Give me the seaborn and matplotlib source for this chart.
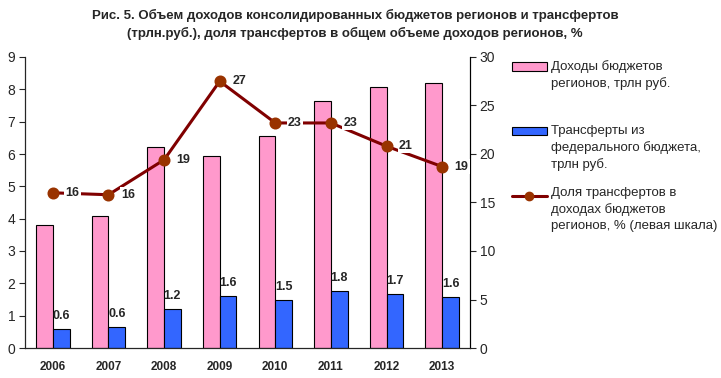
import pandas as pd
import matplotlib.pyplot as plt
import seaborn as sns
from matplotlib.patches import Patch
from matplotlib.lines import Line2D
from matplotlib.legend_handler import HandlerPatch, HandlerLine2D

# data
years = ["2006", "2007", "2008", "2009", "2010", "2011", "2012", "2013"]
income = [3.8, 4.08, 6.22, 5.94, 6.56, 7.64, 8.08, 8.2]
transfers = [0.6, 0.65, 1.2, 1.6, 1.5, 1.75, 1.67, 1.58]
transfer_labels = ["0.6", "0.6", "1.2", "1.6", "1.5", "1.8", "1.7", "1.6"]
share = [16.0, 15.8, 19.4, 27.5, 23.2, 23.2, 20.8, 18.7]
share_labels = ["16", "16", "19", "27", "23", "23", "21", "19"]

s_income = "Доходы бюджетов\nрегионов, трлн руб."
s_transf = "Трансферты из\nфедерального бюджета,\nтрлн руб."
s_share = "Доля трансфертов в\nдоходах бюджетов\nрегионов, % (левая шкала)"

PINK = "#FF99CC"
BLUE = "#3366FF"
LINE = "#800000"
MARK = "#993300"


# legend handles sit next to the first line of the label, not its middle
class UpPatch(HandlerPatch):
    def __init__(self, shift, **kw):
        super().__init__(**kw)
        self.shift = shift

    def create_artists(self, legend, orig_handle, xdescent, ydescent,
                       width, height, fontsize, trans):
        return super().create_artists(legend, orig_handle, xdescent,
                                      ydescent - self.shift * fontsize,
                                      width, height, fontsize, trans)


class UpLine(HandlerLine2D):
    def __init__(self, shift, **kw):
        super().__init__(**kw)
        self.shift = shift

    def create_artists(self, legend, orig_handle, xdescent, ydescent,
                       width, height, fontsize, trans):
        return super().create_artists(legend, orig_handle, xdescent,
                                      ydescent - self.shift * fontsize,
                                      width, height, fontsize, trans)


df = pd.DataFrame({"Год": years, s_income: income, s_transf: transfers})
df_long = df.melt(id_vars="Год", var_name="Серия", value_name="Значение")

sns.set_style("ticks")
plt.rcParams["font.family"] = ["Liberation Sans", "DejaVu Sans"]

fig = plt.figure(figsize=(7.21, 3.78), dpi=100)
ax = fig.add_axes([25 / 721, 30 / 378, 445 / 721, 291 / 378])

sns.barplot(data=df_long, x="Год", y="Значение", hue="Серия",
            palette=[PINK, BLUE], saturation=1, width=0.6,
            edgecolor="black", linewidth=0.8, ax=ax, legend=False)
ax.bar_label(ax.containers[1], labels=transfer_labels, padding=5,
             fontsize=9, fontweight="bold")

ax.set_ylim(0, 9)
ax.set_yticks(range(0, 10))
ax.set_xlim(-0.5, len(years) - 0.5)
ax.set_xlabel("")
ax.set_ylabel("")
ax.tick_params(axis="y", labelsize=10, length=4, width=0.8, pad=3)
ax.tick_params(axis="x", length=0, labelsize=8.5, pad=9)
for t in ax.get_xticklabels():
    t.set_fontweight("bold")
ax.spines["top"].set_visible(False)
for sp in ["left", "bottom", "right"]:
    ax.spines[sp].set_linewidth(0.8)
    ax.spines[sp].set_color("black")

ax2 = ax.twinx()
sns.pointplot(x=years, y=share, color=LINE, markers="o", linestyles="-",
              ax=ax2, markersize=7, linewidth=2.2)
for line in ax2.lines:
    line.set_markerfacecolor(MARK)
    line.set_markeredgecolor(MARK)
for i, (v, lab) in enumerate(zip(share, share_labels)):
    ax2.annotate(lab, (i, v), xytext=(9, 0), textcoords="offset points",
                 fontsize=9, fontweight="bold", va="center", ha="left",
                 bbox=dict(boxstyle="square,pad=0.1", fc="white", ec="none"))
ax2.set_ylim(0, 30)
ax2.set_yticks(range(0, 31, 5))
ax2.set_xlim(-0.5, len(years) - 0.5)
ax2.tick_params(axis="y", labelsize=10, length=4, width=0.8, pad=3)
ax2.spines["top"].set_visible(False)
ax2.spines["right"].set_linewidth(0.8)
ax2.spines["right"].set_color("black")

fig.suptitle("Рис. 5. Объем доходов консолидированных бюджетов регионов и трансфертов\n"
             "(трлн.руб.), доля трансфертов в общем объеме доходов регионов, %",
             x=355 / 721, y=0.975, fontsize=9.5, fontweight="bold", linespacing=1.45)

# one legend per entry so each block sits where it does in the reference
h_income = Patch(facecolor=PINK, edgecolor="black", linewidth=0.8)
h_transf = Patch(facecolor=BLUE, edgecolor="black", linewidth=0.8)
h_share = Line2D([], [], color=LINE, lw=2.2, marker="o", markersize=6,
                 markerfacecolor=MARK, markeredgecolor=MARK)
entries = [
    (h_income, s_income, UpPatch(0.65), 55),
    (h_transf, s_transf, UpPatch(1.3), 120),
    (h_share, s_share, UpLine(2.0), 182),
]
for handle, label, handler, top in entries:
    leg = fig.legend([handle], [label], loc="upper left",
                     bbox_to_anchor=(507 / 721, 1 - top / 378),
                     frameon=False, fontsize=9.5, handlelength=2.6,
                     handleheight=0.6, handletextpad=0.3, borderaxespad=0,
                     handler_map={handle: handler})
    for t in leg.get_texts():
        t.set_linespacing(1.4)

fig.savefig("out.png", dpi=100)
